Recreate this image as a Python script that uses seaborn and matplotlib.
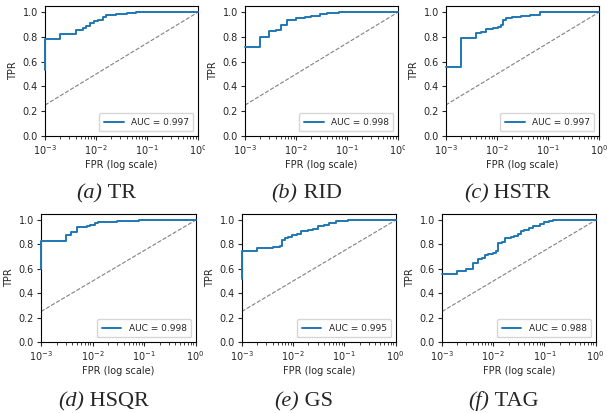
import matplotlib
matplotlib.use("Agg")
import matplotlib.pyplot as plt
import matplotlib.transforms as mtransforms
import seaborn as sns
import pandas as pd

sns.set_style("ticks")
plt.rcParams['font.family'] = ['DejaVu Sans']

letters = ["a", "b", "c", "d", "e", "f"]
names = ["TR", "RID", "HSTR", "HSQR", "GS", "TAG"]
aucs = ["0.997", "0.998", "0.997", "0.998", "0.995", "0.988"]

fpr_tr = [0.001, 0.001, 0.002, 0.004, 0.0055, 0.0065, 0.0075, 0.009, 0.011, 0.014, 0.016, 0.025, 0.04, 0.06, 1.0]
tpr_tr = [0.53, 0.785, 0.82, 0.86, 0.87, 0.89, 0.91, 0.93, 0.94, 0.96, 0.975, 0.985, 0.995, 1.0, 1.0]

fpr_rid = [0.001, 0.002, 0.003, 0.004, 0.005, 0.0067, 0.01, 0.015, 0.02, 0.03, 0.04, 0.07, 1.0]
tpr_rid = [0.72, 0.80, 0.85, 0.86, 0.90, 0.94, 0.95, 0.96, 0.97, 0.985, 0.99, 1.0, 1.0]

fpr_hstr = [0.001, 0.002, 0.004, 0.005, 0.0061, 0.0085, 0.0105, 0.012, 0.013, 0.015, 0.02, 0.03, 0.045, 0.07, 1.0]
tpr_hstr = [0.56, 0.795, 0.835, 0.84, 0.865, 0.87, 0.88, 0.90, 0.94, 0.95, 0.96, 0.97, 0.98, 1.0, 1.0]

fpr_hsqr = [0.001, 0.001, 0.003, 0.0039, 0.0049, 0.0077, 0.009, 0.011, 0.013, 0.03, 0.08, 1.0]
tpr_hsqr = [0.60, 0.83, 0.875, 0.90, 0.943, 0.95, 0.96, 0.975, 0.985, 0.99, 1.0, 1.0]

fpr_gs = [0.001, 0.001, 0.002, 0.003, 0.004, 0.0055, 0.006, 0.007, 0.008, 0.0095, 0.012, 0.014, 0.02, 0.025, 0.03, 0.04, 0.05, 0.07, 0.12, 1.0]
tpr_gs = [0.52, 0.75, 0.77, 0.775, 0.78, 0.79, 0.835, 0.85, 0.86, 0.88, 0.89, 0.91, 0.92, 0.93, 0.95, 0.96, 0.98, 0.99, 1.0, 1.0]

fpr_tag = [0.001, 0.002, 0.003, 0.0033, 0.004, 0.005, 0.006, 0.007, 0.008, 0.01, 0.0115, 0.0125, 0.015, 0.017, 0.022, 0.026, 0.03, 0.035, 0.04, 0.05, 0.06, 0.08, 0.1, 0.12, 0.15, 1.0]
tpr_tag = [0.56, 0.585, 0.595, 0.60, 0.645, 0.68, 0.69, 0.71, 0.72, 0.73, 0.75, 0.81, 0.82, 0.85, 0.86, 0.87, 0.89, 0.91, 0.92, 0.935, 0.95, 0.97, 0.985, 0.99, 1.0, 1.0]

fprs = [fpr_tr, fpr_rid, fpr_hstr, fpr_hsqr, fpr_gs, fpr_tag]
tprs = [tpr_tr, tpr_rid, tpr_hstr, tpr_hsqr, tpr_gs, tpr_tag]

chance_x = [0.001, 1.0]
chance_y = [0.25, 1.0]

W, H = 607, 413
fig = plt.figure(figsize=(W / 100, H / 100), dpi=100)

# axes boxes in pixels: left, right, top, bottom
boxes = [(45, 198, 6, 136), (245, 398, 6, 136), (445.7, 599, 6, 136),
         (41, 195.7, 214, 342), (241.7, 395.7, 214, 342), (442, 595.7, 214, 342)]
cap_base = [198, 198, 198, 406, 406, 406]
clip_right = [205, 405, 607, 203, 403, 607]

fig.canvas.draw()
renderer = fig.canvas.get_renderer()

for i in range(6):
    l, r, t, b = boxes[i]
    ax = fig.add_axes([l / W, 1 - b / H, (r - l) / W, (b - t) / H])
    df = pd.DataFrame({"FPR": fprs[i], "TPR": tprs[i]})
    sns.lineplot(data=df, x="FPR", y="TPR", ax=ax, estimator=None, sort=False,
                 drawstyle="steps-post", color="#1f77b4", linewidth=1.4,
                 label=f"AUC = {aucs[i]}", zorder=3, clip_on=False)
    ax.plot(chance_x, chance_y, linestyle="--", color="gray", linewidth=0.8)
    ax.set_xscale("log")
    ax.set_xlim(1e-3, 1.0)
    ax.set_ylim(0, 1.05)
    ax.set_yticks([0.0, 0.2, 0.4, 0.6, 0.8, 1.0])
    ax.set_xlabel("FPR (log scale)", fontsize=7, labelpad=2)
    ax.set_ylabel("TPR", fontsize=7, labelpad=3)
    ax.tick_params(axis="both", labelsize=7, length=3, width=0.8, pad=2)
    ax.tick_params(axis="x", which="minor", length=1.8, width=0.6)
    for s in ax.spines.values():
        s.set_linewidth(0.8)
        s.set_color("black")
    ax.legend(loc="lower right", fontsize=6.5, frameon=True, handlelength=2.2,
              borderpad=0.5, fancybox=True)
    fig.canvas.draw()
    clipbox = mtransforms.Bbox.from_extents(0, 0, clip_right[i], H)
    for lab in ax.get_xticklabels():
        lab.set_clip_box(mtransforms.TransformedBbox(clipbox, mtransforms.IdentityTransform()))
        lab.set_clip_on(True)

    # caption: italic "(x)" + upright name, centered slightly left of axes center
    cx = (l + r) / 2 - 15
    ybase = H - cap_base[i]
    t1 = fig.text(0, 0, "(" + letters[i] + ")", fontsize=16, style="italic",
                  family="Liberation Serif", va="baseline", ha="left",
                  transform=mtransforms.IdentityTransform())
    t2 = fig.text(0, 0, "\u00a0" + names[i], fontsize=16,
                  family="Liberation Serif", va="baseline", ha="left",
                  transform=mtransforms.IdentityTransform())
    w1 = t1.get_window_extent(renderer).width
    w2 = t2.get_window_extent(renderer).width
    x0 = cx - (w1 + w2) / 2
    t1.set_position((x0, ybase))
    t2.set_position((x0 + w1, ybase))

fig.savefig("out.png", dpi=100)
